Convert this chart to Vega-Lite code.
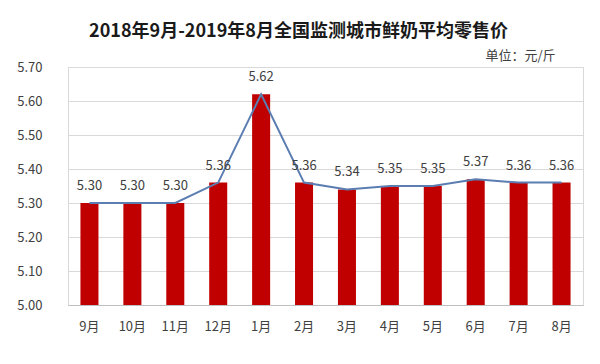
{
  "$schema": "https://vega.github.io/schema/vega-lite/v6.json",
  "autosize": {"type": "none"},
  "width": 515,
  "height": 238,
  "padding": {"left": 68, "top": 67, "right": 17, "bottom": 59},
  "background": "white",
  "title": {
    "text": "2018年9月-2019年8月全国监测城市鲜奶平均零售价",
    "font": "Noto Sans CJK SC",
    "fontSize": 18,
    "fontWeight": "bold",
    "color": "#1a1a1a",
    "anchor": "middle",
    "dx": -27,
    "offset": 8
  },
  "data": {
    "values": [
      {"month": "9月", "price": 5.30},
      {"month": "10月", "price": 5.30},
      {"month": "11月", "price": 5.30},
      {"month": "12月", "price": 5.36},
      {"month": "1月", "price": 5.62},
      {"month": "2月", "price": 5.36},
      {"month": "3月", "price": 5.34},
      {"month": "4月", "price": 5.35},
      {"month": "5月", "price": 5.35},
      {"month": "6月", "price": 5.37},
      {"month": "7月", "price": 5.36},
      {"month": "8月", "price": 5.36}
    ]
  },
  "encoding": {
    "x": {
      "field": "month",
      "type": "nominal",
      "sort": null,
      "scale": {"paddingInner": 0.58, "paddingOuter": 0.29},
      "axis": {
        "title": null,
        "labelAngle": 0,
        "labelFont": "Noto Sans CJK SC",
        "labelFontSize": 13,
        "labelColor": "#404040",
        "labelPadding": 15,
        "ticks": false,
        "domainColor": "#BFBFBF"
      }
    },
    "y": {
      "field": "price",
      "type": "quantitative",
      "scale": {"domain": [5.0, 5.7], "zero": false},
      "axis": {
        "values": [5.0, 5.1, 5.2, 5.3, 5.4, 5.5, 5.6, 5.7],
        "format": ".2f",
        "title": "单位：元/斤",
        "titleAngle": 0,
        "titleX": 487,
        "titleY": -5,
        "titleAlign": "right",
        "titleBaseline": "bottom",
        "titleFont": "Noto Sans CJK SC",
        "titleFontSize": 13,
        "titleFontWeight": "normal",
        "titleColor": "#404040",
        "labelFont": "Noto Sans CJK SC",
        "labelFontSize": 13,
        "labelColor": "#404040",
        "labelPadding": 26,
        "ticks": false,
        "domain": false,
        "gridColor": "#D9D9D9"
      }
    }
  },
  "layer": [
    {
      "mark": {"type": "bar", "color": "#C00000"},
      "encoding": {"y2": {"datum": 5.0}}
    },
    {"mark": {"type": "line", "color": "#5B7DB1", "strokeWidth": 2}},
    {
      "mark": {
        "type": "text",
        "baseline": "bottom",
        "dy": -10,
        "font": "Noto Sans CJK SC",
        "fontSize": 13,
        "color": "#404040"
      },
      "encoding": {"text": {"field": "price", "type": "quantitative", "format": ".2f"}}
    }
  ],
  "config": {
    "view": {"stroke": "#D9D9D9"}
  }
}
